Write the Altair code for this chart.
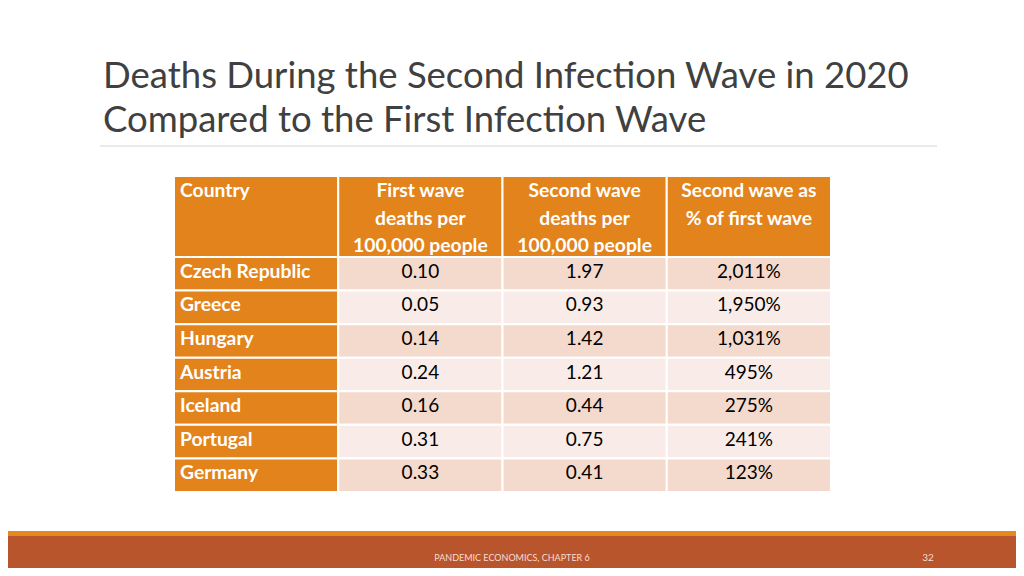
import altair as alt
import pandas as pd

# ---------------- data ----------------
title_lines = ["Deaths During the Second Infection Wave in 2020",
               "Compared to the First Infection Wave"]
headers = ["Country",
           "First wave\ndeaths per\n100,000 people",
           "Second wave\ndeaths per\n100,000 people",
           "Second wave as\n% of first wave"]
countries = ["Czech Republic", "Greece", "Hungary", "Austria", "Iceland", "Portugal", "Germany"]
first_wave = [0.10, 0.05, 0.14, 0.24, 0.16, 0.31, 0.33]
second_wave = [1.97, 0.93, 1.42, 1.21, 0.44, 0.75, 0.41]
second_pct = [2011, 1950, 1031, 495, 275, 241, 123]
footer_text = "PANDEMIC ECONOMICS, CHAPTER 6"
page_number = "32"

# ---------------- layout ----------------
W, H = 1008, 560
OFF = 8
TBL_L, TBL_R = 174, 831
ROW0_TOP, TBL_B = 257, 492
HDR_TOP = 176
COL_W = (TBL_R - TBL_L) / 4
ROW_H = (TBL_B - ROW0_TOP) / len(countries)
x_dom = [(OFF - TBL_L) / COL_W, (W + OFF - TBL_L) / COL_W]
y_dom = [(OFF - ROW0_TOP) / ROW_H, (H + OFF - ROW0_TOP) / ROW_H]
hdr_y0 = (HDR_TOP - ROW0_TOP) / ROW_H

FONT = "Lato"
BODY = 19.3
xs = alt.Scale(domain=x_dom, nice=False, zero=False)
ys = alt.Scale(domain=y_dom, reverse=True, nice=False, zero=False)

# cells
cells = []
for c in range(4):
    cells.append(dict(x0=c, x1=c + 1, y0=hdr_y0, y1=0, kind="head"))
for r in range(len(countries)):
    for c in range(4):
        kind = "head" if c == 0 else ("odd" if r % 2 == 0 else "even")
        cells.append(dict(x0=c, x1=c + 1, y0=r, y1=r + 1, kind=kind))
cells_df = pd.DataFrame(cells)

rects = alt.Chart(cells_df).mark_rect(stroke="white", strokeWidth=2).encode(
    x=alt.X("x0:Q", scale=xs, axis=None),
    x2="x1:Q",
    y=alt.Y("y0:Q", scale=ys, axis=None),
    y2="y1:Q",
    color=alt.Color("kind:N", legend=None,
                    scale=alt.Scale(domain=["head", "odd", "even"],
                                    range=["#E3831B", "#F4D9CD", "#F9ECE8"])),
)

hdr_df = pd.DataFrame([dict(x=c + 0.5, y=hdr_y0, t=headers[c]) for c in range(1, 4)])
hdr_text = alt.Chart(hdr_df).mark_text(
    align="center", baseline="alphabetic", lineBreak="\n", lineHeight=27.5,
    dy=21, font=FONT, fontWeight="bold", fontSize=BODY, color="white"
).encode(x=alt.X("x:Q", scale=xs), y=alt.Y("y:Q", scale=ys), text="t:N")

hdr0_df = pd.DataFrame([dict(x=0, y=hdr_y0, t=headers[0])])
hdr0_text = alt.Chart(hdr0_df).mark_text(
    align="left", baseline="alphabetic", dx=6, dy=21,
    font=FONT, fontWeight="bold", fontSize=BODY, color="white"
).encode(x=alt.X("x:Q", scale=xs), y=alt.Y("y:Q", scale=ys), text="t:N")

ctry_df = pd.DataFrame([dict(x=0, y=r + 0.5, t=n) for r, n in enumerate(countries)])
ctry_text = alt.Chart(ctry_df).mark_text(
    align="left", baseline="middle", dx=6, dy=-2,
    font=FONT, fontWeight="bold", fontSize=BODY, color="white"
).encode(x=alt.X("x:Q", scale=xs), y=alt.Y("y:Q", scale=ys), text="t:N")

vals = []
for r in range(len(countries)):
    vals.append(dict(x=1.5, y=r + 0.5, t=f"{first_wave[r]:.2f}"))
    vals.append(dict(x=2.5, y=r + 0.5, t=f"{second_wave[r]:.2f}"))
    vals.append(dict(x=3.5, y=r + 0.5, t=f"{second_pct[r]:,}%"))
val_df = pd.DataFrame(vals)
val_text = alt.Chart(val_df).mark_text(
    align="center", baseline="middle", dy=-2,
    font=FONT, fontSize=19, color="black"
).encode(x=alt.X("x:Q", scale=xs), y=alt.Y("y:Q", scale=ys), text="t:N")

one = pd.DataFrame({"k": [0]})

title1 = alt.Chart(one).mark_text(
    align="left", baseline="alphabetic", font=FONT, fontWeight="normal", fontSize=36.5, color="#404040"
).encode(x=alt.value(95), y=alt.value(80), text=alt.value(title_lines[0]))
title2 = alt.Chart(one).mark_text(
    align="left", baseline="alphabetic", font=FONT, fontWeight="normal", fontSize=36.5, color="#404040"
).encode(x=alt.value(95), y=alt.value(124), text=alt.value(title_lines[1]))

sep = alt.Chart(one).mark_rule(color="#D4D4D4", strokeWidth=1).encode(
    x=alt.value(92), x2=alt.value(929), y=alt.value(138))

foot_orange = alt.Chart(one).mark_rect(color="#E5891E").encode(
    x=alt.value(0), x2=alt.value(W), y=alt.value(523), y2=alt.value(528))
foot_band = alt.Chart(one).mark_rect(color="#B9552C").encode(
    x=alt.value(0), x2=alt.value(W), y=alt.value(528), y2=alt.value(H))
foot_text = alt.Chart(one).mark_text(
    align="center", baseline="middle", font=FONT, fontSize=9, color="#F6DCD2"
).encode(x=alt.value(504), y=alt.value(550), text=alt.value(footer_text))
foot_num = alt.Chart(one).mark_text(
    align="center", baseline="middle", font=FONT, fontSize=10, color="#F6DCD2"
).encode(x=alt.value(920), y=alt.value(550), text=alt.value(page_number))

chart = alt.layer(
    rects, hdr_text, hdr0_text, ctry_text, val_text,
    title1, title2, sep, foot_orange, foot_band, foot_text, foot_num
).properties(
    width=W, height=H, padding=0,
    autosize=alt.AutoSizeParams(type="none"),
    background="white",
).configure_view(stroke=None)

chart.save("out.html", embed_options={"renderer": "svg", "actions": False})
